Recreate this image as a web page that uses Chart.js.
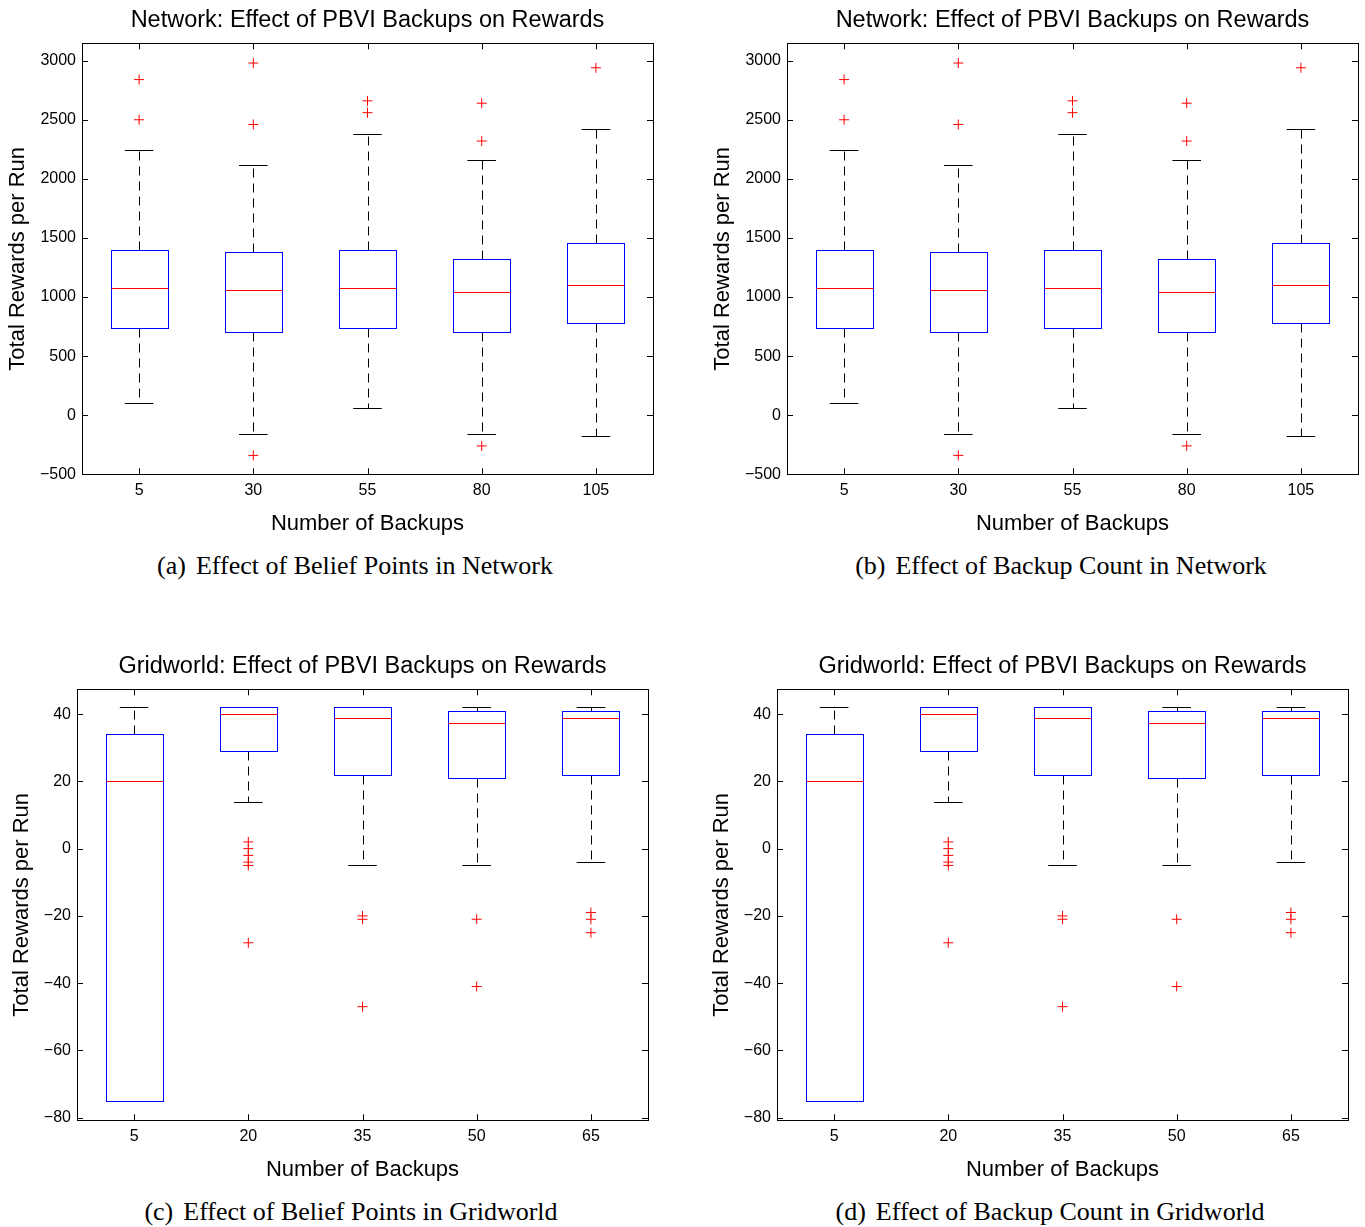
<!DOCTYPE html>
<html>
<head>
<meta charset="utf-8">
<script src="https://cdn.jsdelivr.net/npm/chart.js@4.4.1/dist/chart.umd.min.js"></script>
<style>
  body { margin: 0; background: #fff; width: 1365px; height: 1227px; overflow: hidden; position: relative; }
  canvas { position: absolute; }
  .cap { position: absolute; font-family: "Liberation Serif", serif; font-size: 26px; color: #000;
         white-space: nowrap; transform: translate(-50%, -50%); }
  .cap b { font-weight: normal; margin-right: 10px; }
</style>
</head>
<body>
<canvas id="chartA"></canvas>
<canvas id="chartB"></canvas>
<canvas id="chartC"></canvas>
<canvas id="chartD"></canvas>
<div class="cap" style="left:355px; top:566px"><b>(a)</b>Effect of Belief Points in Network</div>
<div class="cap" style="left:1061px; top:566px"><b>(b)</b>Effect of Backup Count in Network</div>
<div class="cap" style="left:351px; top:1212px"><b>(c)</b>Effect of Belief Points in Gridworld</div>
<div class="cap" style="left:1050px; top:1212px"><b>(d)</b>Effect of Backup Count in Gridworld</div>
<script>
// network runs
const netLabels = ['5', '30', '55', '80', '105'];
const netTicks = [-500, 0, 500, 1000, 1500, 2000, 2500, 3000];
const netLow = [100, -160, 60, -160, -180];
const netQ1 = [740, 700, 740, 700, 780];
const netMedian = [1080, 1060, 1080, 1040, 1100];
const netQ3 = [1400, 1380, 1400, 1320, 1460];
const netHigh = [2240, 2120, 2380, 2160, 2420];
const netOutliers = [[2500, 2840], [2460, 2980, -340], [2560, 2660], [2320, 2640, -260], [2940]];

// gridworld runs
const gridLabels = ['5', '20', '35', '50', '65'];
const gridTicks = [-80, -60, -40, -20, 0, 20, 40];
const gridLow = [-75, 14, -5, -5, -4];
const gridQ1 = [-75, 29, 22, 21, 22];
const gridMedian = [20, 40, 39, 37.5, 39];
const gridQ3 = [34, 42, 42, 41, 41];
const gridHigh = [42, 42, 42, 42, 42];
const gridOutliers = [[], [2, 0, -2, -4, -5, -28], [-20, -21, -47], [-21, -41], [-19, -21, -25]];

const SANS = '"Liberation Sans", Arial, sans-serif';

function boxPlugin(st, title) {
    return {
        id: 'boxes',
        beforeDatasetsDraw(chart) {
            const ctx = chart.ctx, x = chart.scales.x, y = chart.scales.y;
            const px = v => Math.round(v) + 0.5;
            ctx.save();
            ctx.lineWidth = 1;
            for (let i = 0; i < st.median.length; i++) {
                const c = px(x.getPixelForValue(i + 1));
                const bl = px(x.getPixelForValue(i + 0.75)), br = px(x.getPixelForValue(i + 1.25));
                const cl = x.getPixelForValue(i + 0.875), cr = x.getPixelForValue(i + 1.125);
                const yLow = px(y.getPixelForValue(st.low[i])), yHigh = px(y.getPixelForValue(st.high[i]));
                const yQ1 = px(y.getPixelForValue(st.q1[i])), yQ3 = px(y.getPixelForValue(st.q3[i]));
                const yMed = px(y.getPixelForValue(st.median[i]));
                // whiskers
                ctx.strokeStyle = '#000';
                ctx.setLineDash([9, 6]);
                ctx.beginPath();
                ctx.moveTo(c, yQ3); ctx.lineTo(c, yHigh);
                ctx.moveTo(c, yQ1); ctx.lineTo(c, yLow);
                ctx.stroke();
                ctx.setLineDash([]);
                ctx.beginPath();
                ctx.moveTo(cl, yHigh); ctx.lineTo(cr, yHigh);
                ctx.moveTo(cl, yLow); ctx.lineTo(cr, yLow);
                ctx.stroke();
                // box
                ctx.strokeStyle = '#0000ff';
                ctx.strokeRect(bl, yQ3, br - bl, yQ1 - yQ3);
                // median
                ctx.strokeStyle = '#ff0000';
                ctx.beginPath();
                ctx.moveTo(bl, yMed); ctx.lineTo(br, yMed);
                ctx.stroke();
            }
            ctx.restore();
        },
        afterDraw(chart) {
            const ctx = chart.ctx, a = chart.chartArea, x = chart.scales.x, y = chart.scales.y;
            const L = 6;
            ctx.save();
            ctx.strokeStyle = '#000';
            ctx.lineWidth = 1;
            ctx.strokeRect(Math.round(a.left) + 0.5, Math.round(a.top) + 0.5,
                Math.round(a.right - a.left), Math.round(a.bottom - a.top));
            ctx.beginPath();
            x.ticks.forEach(t => {
                const p = Math.round(x.getPixelForValue(t.value)) + 0.5;
                ctx.moveTo(p, a.bottom); ctx.lineTo(p, a.bottom - L);
                ctx.moveTo(p, a.top); ctx.lineTo(p, a.top + L);
            });
            y.ticks.forEach(t => {
                const p = Math.round(y.getPixelForValue(t.value)) + 0.5;
                ctx.moveTo(a.left, p); ctx.lineTo(a.left + L, p);
                ctx.moveTo(a.right, p); ctx.lineTo(a.right - L, p);
            });
            ctx.stroke();
            // title centred over the plot box
            ctx.fillStyle = '#000';
            ctx.font = '23.5px ' + SANS;
            ctx.textAlign = 'center';
            ctx.textBaseline = 'middle';
            ctx.fillText(title, (a.left + a.right) / 2, a.top - 23);
            ctx.restore();
        }
    };
}

function renderBoxChart(id, pos, title, labels, yTicks, st, yRange) {
    const canvas = document.getElementById(id);
    canvas.width = pos.axisW + 571.5 + 12;
    canvas.height = 545;
    canvas.style.left = pos.left + 'px';
    canvas.style.top = pos.top + 'px';

    const points = [];
    st.outliers.forEach((list, i) => list.forEach(v => points.push({ x: i + 1, y: v })));

    return new Chart(canvas.getContext('2d'), {
        type: 'scatter',
        data: {
            datasets: [{
                data: points,
                pointStyle: 'cross',
                pointRadius: 5,
                pointBorderWidth: 1,
                borderColor: '#ff0000',
                backgroundColor: '#ff0000'
            }]
        },
        options: {
            responsive: false,
            animation: false,
            layout: { padding: { left: 0, right: 12, top: 43.3, bottom: 0 } },
            plugins: {
                legend: { display: false },
                tooltip: { enabled: false },
                title: { display: false }
            },
            scales: {
                x: {
                    type: 'linear',
                    min: 0.5,
                    max: 5.5,
                    afterBuildTicks: s => { s.ticks = labels.map((l, i) => ({ value: i + 1 })); },
                    afterFit: s => { s.height = 70.7; },
                    grid: { display: false, drawTicks: false },
                    border: { display: false },
                    ticks: {
                        autoSkip: false,
                        maxRotation: 0,
                        padding: 7,
                        color: '#000',
                        font: { family: SANS, size: 16 },
                        callback: v => labels[Math.round(v) - 1]
                    },
                    title: {
                        display: true,
                        text: 'Number of Backups',
                        color: '#000',
                        font: { family: SANS, size: 22 },
                        padding: { top: 0, bottom: 8 }
                    }
                },
                y: {
                    min: yRange.min,
                    max: yRange.max,
                    afterBuildTicks: s => { s.ticks = yTicks.map(v => ({ value: v })); },
                    afterFit: s => { s.width = pos.axisW; },
                    grid: { display: false, drawTicks: false },
                    border: { display: false },
                    ticks: {
                        padding: 6,
                        color: '#000',
                        font: { family: SANS, size: 16 },
                        callback: v => String(v).replace('-', '\u2212')
                    },
                    title: {
                        display: true,
                        text: 'Total Rewards per Run',
                        color: '#000',
                        font: { family: SANS, size: 22 },
                        padding: { top: pos.titlePad, bottom: 0 }
                    }
                }
            }
        },
        plugins: [boxPlugin(st, title)]
    });
}

const netStats = { low: netLow, q1: netQ1, median: netMedian, q3: netQ3, high: netHigh, outliers: netOutliers };
const gridStats = { low: gridLow, q1: gridQ1, median: gridMedian, q3: gridQ3, high: gridHigh, outliers: gridOutliers };
const netRange = { min: -500, max: 3147 };
const gridRange = { min: -80.8, max: 47.4 };

renderBoxChart('chartA', { left: 0, top: 0, axisW: 82, titlePad: 5 },
    'Network: Effect of PBVI Backups on Rewards', netLabels, netTicks, netStats, netRange);
renderBoxChart('chartB', { left: 705, top: 0, axisW: 82, titlePad: 5 },
    'Network: Effect of PBVI Backups on Rewards', netLabels, netTicks, netStats, netRange);
renderBoxChart('chartC', { left: 0, top: 646, axisW: 77, titlePad: 9 },
    'Gridworld: Effect of PBVI Backups on Rewards', gridLabels, gridTicks, gridStats, gridRange);
renderBoxChart('chartD', { left: 699.5, top: 646, axisW: 77, titlePad: 9 },
    'Gridworld: Effect of PBVI Backups on Rewards', gridLabels, gridTicks, gridStats, gridRange);
</script>
</body>
</html>
